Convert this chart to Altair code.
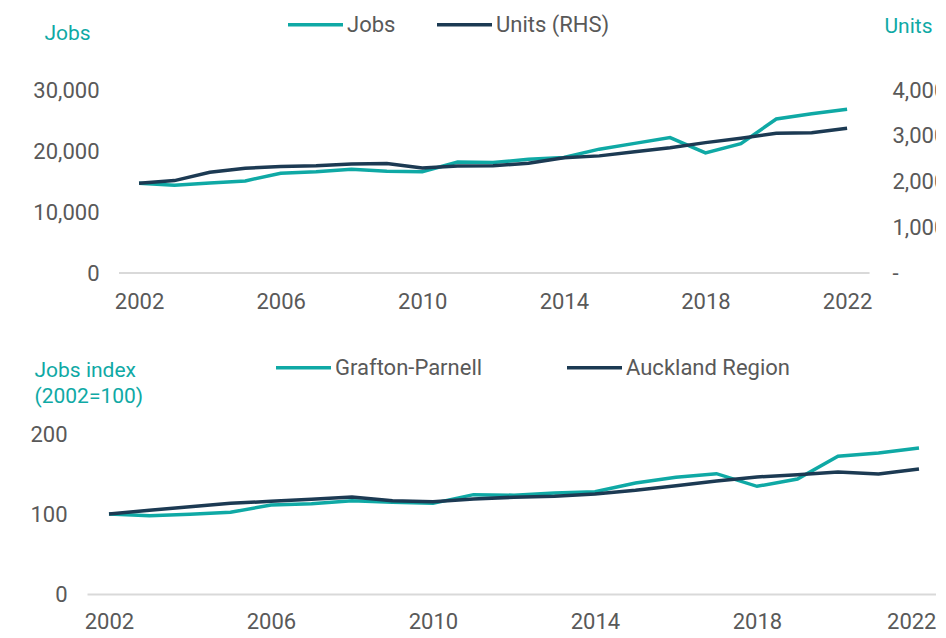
import altair as alt
import pandas as pd

# ---- data ----
years = [2002, 2003, 2004, 2005, 2006, 2007, 2008, 2009, 2010, 2011, 2012,
         2013, 2014, 2015, 2016, 2017, 2018, 2019, 2020, 2021, 2022]
jobs = [14700, 14400, 14750, 15100, 16350, 16600, 17000, 16700, 16600, 18200, 18100,
        18650, 18950, 20300, 21250, 22200, 19700, 21200, 25250, 26100, 26850]
units = [1960, 2020, 2200, 2290, 2330, 2345, 2385, 2395, 2295, 2340, 2345,
         2400, 2520, 2560, 2650, 2740, 2850, 2945, 3055, 3065, 3165]
grafton = [100, 97.9, 99.6, 102.1, 111.3, 112.9, 116.7, 114.6, 113.3, 124.2, 123.5,
           126.2, 127.9, 138.8, 145.8, 150.4, 134.6, 143.8, 172.1, 176.3, 182.5]
auckland = [100, 104.6, 109.2, 113.3, 115.8, 118.3, 121.3, 116.7, 115.4, 118.8, 121.0,
            122.1, 125.0, 129.6, 135.4, 141.3, 146.3, 149.2, 152.5, 150.0, 156.3]

top_series = ["Jobs", "Units (RHS)"]
bottom_series = ["Grafton-Parnell", "Auckland Region"]
x_ticks = [2002, 2006, 2010, 2014, 2018, 2022]
jobs_ticks = [0, 10000, 20000, 30000]
units_ticks = [0, 1000, 2000, 3000, 4000]
index_ticks = [0, 100, 200]

TEAL = "#0FA9A5"
NAVY = "#1C3A53"
GREY = "#595959"
BASE = "#D9D9D9"
FONT = "Roboto"
FS_TICK = 22
FS_LEG = 22
FS = 21

top_df = pd.DataFrame({"year": years, "jobs": jobs, "units": units})
bottom_df = pd.DataFrame({
    "year": years + years,
    "index": grafton + auckland,
    "series": [bottom_series[0]] * len(years) + [bottom_series[1]] * len(years),
})

# ---------------- top panel ----------------
x_top = alt.X(
    "year:Q",
    scale=alt.Scale(domain=[2000.53, 2022.76], nice=False, zero=False),
    axis=alt.Axis(values=x_ticks, format="d", domain=False, ticks=False, grid=False,
                  labelPadding=18, labelFlush=False, title=None),
)
jobs_axis = alt.Axis(values=jobs_ticks, labelExpr="format(datum.value, ',')",
                     domain=False, ticks=False, grid=False,
                     offset=-32, labelPadding=20,
                     title="Jobs", titleAngle=0, titleAlign="left", titleBaseline="middle",
                     titleX=-75, titleY=-57, titleColor=TEAL)
jobs_scale = alt.Scale(domain=[0, 30000], nice=False)

top_color = alt.Scale(domain=top_series, range=[TEAL, NAVY])
top_legend = alt.Legend(orient="none", legendX=199, legendY=-95, direction="horizontal",
                        title=None, symbolType="stroke", symbolSize=3025,
                        symbolStrokeWidth=3.5, columnPadding=34, labelOffset=2,
                        labelLimit=400, padding=0)

base_top = alt.Chart(top_df)
baseline = base_top.mark_rule(color=BASE, strokeWidth=2).encode(
    x=alt.X(datum=2001.44), x2=alt.X2(datum=2022.62),
    y=alt.Y(datum=0, type="quantitative", scale=jobs_scale, axis=jobs_axis),
)
jobs_line = base_top.mark_line(strokeWidth=3.5).transform_calculate(
    series="'" + top_series[0] + "'"
).encode(
    x=x_top,
    y=alt.Y("jobs:Q", scale=jobs_scale, axis=jobs_axis),
    color=alt.Color("series:N", scale=top_color, legend=top_legend),
)
units_line = base_top.mark_line(strokeWidth=3.5).transform_calculate(
    series="'" + top_series[1] + "'"
).encode(
    x=x_top,
    y=alt.Y("units:Q", scale=alt.Scale(domain=[0, 4000], nice=False),
            axis=alt.Axis(orient="right", values=units_ticks, domain=False, ticks=False,
                          grid=False, labelPadding=18, labelAlign="left",
                          labelExpr="datum.value == 0 ? '-' : format(datum.value, ',')",
                          title="Units", titleAngle=0, titleAlign="left",
                          titleBaseline="middle", titleX=10, titleY=-64, titleColor=TEAL)),
    color=alt.Color("series:N", scale=top_color, legend=top_legend),
)
top = alt.layer(alt.layer(baseline, jobs_line), units_line).resolve_scale(
    y="independent"
).properties(width=787, height=183)

# ---------------- bottom panel ----------------
bottom = alt.Chart(bottom_df).mark_line(strokeWidth=3.5).encode(
    x=alt.X("year:Q",
            scale=alt.Scale(domain=[2001.457, 2022.494], nice=False, zero=False),
            axis=alt.Axis(values=x_ticks, format="d", domain=True, domainColor=BASE,
                          domainWidth=2, ticks=False, grid=False, labelPadding=17,
                          labelFlush=21, labelFlushOffset=17, title=None)),
    y=alt.Y("index:Q", scale=alt.Scale(domain=[0, 200], nice=False),
            axis=alt.Axis(values=index_ticks, domain=False, ticks=False, grid=False,
                          labelPadding=20,
                          title=["Jobs index", "(2002=100)"], titleAngle=0,
                          titleAlign="left", titleBaseline="top", titleLineHeight=26,
                          titleX=-53, titleY=-75, titleColor=TEAL)),
    color=alt.Color("series:N",
                    scale=alt.Scale(domain=bottom_series, range=[TEAL, NAVY]),
                    legend=alt.Legend(orient="none", legendX=187, legendY=-96,
                                      direction="horizontal", title=None,
                                      symbolType="stroke", symbolSize=3025,
                                      symbolStrokeWidth=3.5, columnPadding=77,
                                      labelOffset=2, labelLimit=400, padding=0)),
).properties(width=852, height=160)

chart = alt.vconcat(top, bottom, spacing=26).resolve_scale(
    color="independent"
).properties(
    padding={"left": 21, "top": -13, "right": -10, "bottom": 0}
).configure_view(stroke=None).configure_axis(
    labelFont=FONT, labelFontSize=FS_TICK, labelColor=GREY,
    titleFont=FONT, titleFontSize=FS, titleFontWeight="normal",
).configure_legend(
    labelFont=FONT, labelFontSize=FS_LEG, labelColor=GREY,
)

chart.save("out.html", embed_options={"renderer": "svg", "actions": False})
